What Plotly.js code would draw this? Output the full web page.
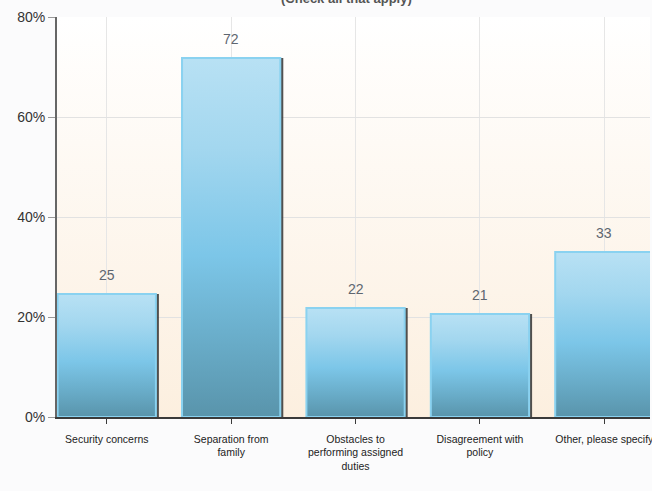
<!DOCTYPE html>
<html>
<head>
<meta charset="utf-8">
<script src="https://cdn.plot.ly/plotly-3.0.1.min.js"></script>
<style>
html,body{margin:0;padding:0;background:#fbfbfc;}
#chart{width:652px;height:491px;}
</style>
</head>
<body>
<div id="chart"></div>
<script>
// Data
const categories = ["Security concerns", "Separation from<br>family", "Obstacles to<br>performing assigned<br>duties", "Disagreement with<br>policy", "Other, please specify"];
const percentValues = [24.6, 71.8, 21.8, 20.6, 33.0];
const valueLabels = ["25", "72", "22", "21", "33"];
const yTickValues = [0, 20, 40, 60, 80];
const yTickLabels = ["0%", "20%", "40%", "60%", "80%"];
const chartTitle = "(Check all that apply)";

const xIdx = categories.map((c, i) => i);

const trace = {
  type: "bar",
  x: xIdx,
  y: percentValues,
  width: 0.79,
  marker: { color: "#84c9e8", line: { color: "#8ad2f0", width: 2 } },
  hoverinfo: "none"
};

const annotations = valueLabels.map((t, i) => ({
  x: i, y: percentValues[i], xref: "x", yref: "y",
  text: t, showarrow: false, yanchor: "bottom", yshift: 9,
  font: { family: "Arial, Liberation Sans, sans-serif", size: 14, color: "#5e6670" }
}));
annotations.push({
  x: 0.489, y: 1, xref: "paper", yref: "paper", yanchor: "bottom", yshift: 9,
  text: "<b>" + chartTitle + "</b>", showarrow: false,
  font: { family: "Arial, Liberation Sans, sans-serif", size: 13, color: "#555" }
});

const layout = {
  width: 652, height: 491,
  margin: { l: 57, r: 2, t: 17, b: 74 },
  paper_bgcolor: "#fbfbfc",
  plot_bgcolor: "#fdf3e8",
  showlegend: false,
  xaxis: {
    range: [-0.4, 4.367],
    tickmode: "array", tickvals: xIdx, ticktext: categories,
    showgrid: true, gridcolor: "#e6e6e6", gridwidth: 1,
    zeroline: false,
    showline: true, linecolor: "#3a3a3a", linewidth: 2,
    ticks: "outside", ticklen: 5, tickcolor: "#3a3a3a", tickwidth: 1,
    ticklabelstandoff: 6,
    ticklabeloverflow: "allow",
    tickfont: { family: "Arial, Liberation Sans, sans-serif", size: 10.5, color: "#222" },
    fixedrange: true
  },
  yaxis: {
    range: [0, 80],
    tickmode: "array", tickvals: yTickValues, ticktext: yTickLabels,
    showgrid: true, gridcolor: "#e2e2e2", gridwidth: 1,
    zeroline: false,
    showline: true, linecolor: "#666", linewidth: 2,
    ticks: "outside", ticklen: 7, tickcolor: "#999", tickwidth: 1,
    tickfont: { family: "Arial, Liberation Sans, sans-serif", size: 14, color: "#333" },
    fixedrange: true
  },
  annotations: annotations
};

Plotly.newPlot("chart", [trace], layout, { displayModeBar: false, staticPlot: true }).then(function (gd) {
  const svg = gd.querySelector("svg.main-svg");
  const ns = "http://www.w3.org/2000/svg";
  let defs = svg.querySelector("defs");
  if (!defs) { defs = document.createElementNS(ns, "defs"); svg.insertBefore(defs, svg.firstChild); }
  function grad(id, stops) {
    const g = document.createElementNS(ns, "linearGradient");
    g.setAttribute("id", id);
    g.setAttribute("x1", "0"); g.setAttribute("y1", "0");
    g.setAttribute("x2", "0"); g.setAttribute("y2", "1");
    stops.forEach(s => {
      const st = document.createElementNS(ns, "stop");
      st.setAttribute("offset", s[0]);
      st.setAttribute("stop-color", s[1]);
      g.appendChild(st);
    });
    defs.appendChild(g);
  }
  grad("barGrad", [["0", "#b8e1f4"], ["0.25", "#a3d7ef"], ["0.55", "#7cc6e8"], ["0.8", "#68abc7"], ["1", "#5994ab"]]);
  grad("bgGrad", [["0", "#ffffff"], ["1", "#fcefdf"]]);
  const bg = svg.querySelector(".bglayer rect.bg");
  if (bg) bg.style.fill = "url(#bgGrad)";
  svg.querySelectorAll(".barlayer .point path").forEach(p => {
    p.style.fill = "url(#barGrad)";
    p.style.filter = "drop-shadow(2px 1px 0.6px rgba(50,50,50,0.85))";
  });
});
</script>
</body>
</html>
